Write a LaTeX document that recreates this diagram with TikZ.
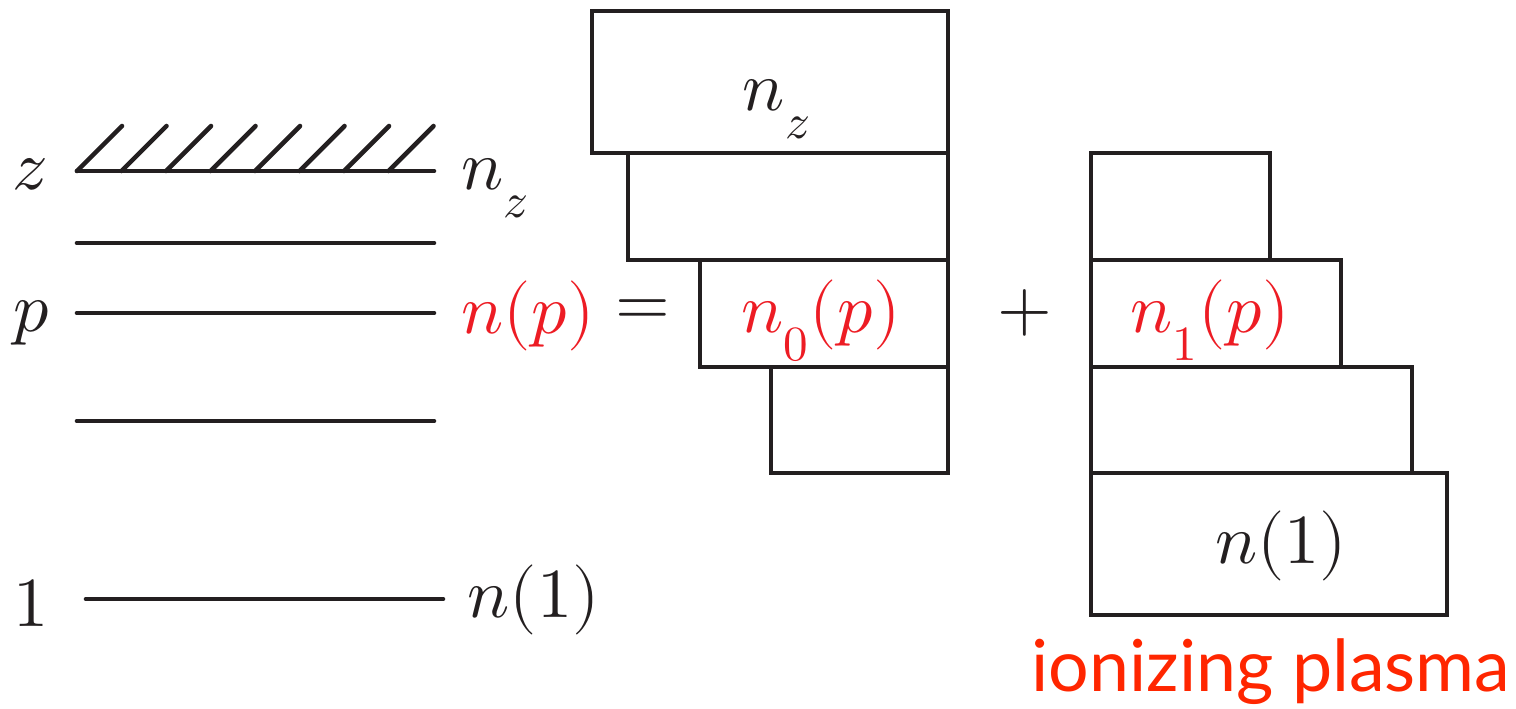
\documentclass[tikz,border=0pt]{standalone}
\usepackage{fontspec}
\usepackage{unicode-math}
\newfontfamily\plasmafont{Lato}
\usetikzlibrary{positioning}
\definecolor{ink}{HTML}{231F20}
\definecolor{levred}{HTML}{ED1C24}
\definecolor{plasmared}{HTML}{FF2600}
\newcommand{\dn}[1]{\raisebox{-3.3pt}{$\scriptstyle #1$}}

\begin{document}
\begin{tikzpicture}[x=0.1mm,y=-0.1mm]
        \tikzset{level/.style={ink, line width=1.3pt, line cap=round},
                 lab/.style={ink, inner sep=0pt, font=\fontsize{20}{24}\selectfont},
                 redlab/.style={lab, text=levred},
                 box/.style={draw=ink, line width=1.3pt, inner sep=0pt, outer sep=0pt}}
        \useasboundingbox (0,0) rectangle (1516,708);

        % energy levels
        \draw[level] (77,171) -- (434,171);
        \foreach \i in {0,...,7}
            \draw[level] ({77+44.5*\i},171) -- ++(45,-45);
        \draw[level] (77,243) -- (434,243);
        \draw[level] (77,313) -- (434,313);
        \draw[level] (77,421) -- (434,421);
        \draw[level] (86,599) -- (443,599);

        \node[lab, anchor=base] (lz) at (30,189) {$z$};
        \node[lab, anchor=base] (lp) at (32,331) {$p$};
        \node[lab, anchor=base] (l1) at (31,626) {$1$};
        \node[lab, anchor=base west] (nz) at (461,189) {$n_{\dn{z}}$};
        \node[redlab, anchor=base west] (np) at (461,333) {$n(p)$};
        \node[lab, anchor=base west] (n1) at (467,617) {$n(1)$};

        \node[lab] (eq) at (643,313) {$=$};
        \node[lab] (plus) at (1025,313) {$+$};

        % recombining part
        \node[box, minimum width=35.6mm, minimum height=14.2mm, anchor=north east] (m1) at (948,11) {};
        \node[box, minimum width=32mm, minimum height=10.7mm, anchor=north east] (m2) at (m1.south east) {};
        \node[box, minimum width=24.8mm, minimum height=10.7mm, anchor=north east] (m3) at (m2.south east) {};
        \node[box, minimum width=17.7mm, minimum height=10.6mm, anchor=north east] (m4) at (m3.south east) {};
        \node[lab, anchor=base] (mz) at (777,110) {$n_{\dn{z}}$};
        \node[redlab, anchor=base] (m0) at (821,332) {$n_{\dn{0}}(p)$};

        % ionizing part
        \node[box, minimum width=35.6mm, minimum height=14.2mm, anchor=south west] (r4) at (1091,615) {};
        \node[box, minimum width=32.1mm, minimum height=10.6mm, anchor=south west] (r3) at (r4.north west) {};
        \node[box, minimum width=25mm, minimum height=10.7mm, anchor=south west] (r2) at (r3.north west) {};
        \node[box, minimum width=17.9mm, minimum height=10.7mm, anchor=south west] (r1) at (r2.north west) {};
        \node[redlab, anchor=base] (r0) at (1210,332) {$n_{\dn{1}}(p)$};
        \node[lab, anchor=base] (rn) at (1281,563) {$n(1)$};

        \node[inner sep=0pt, anchor=base west, text=plasmared,
              font=\plasmafont\fontsize{20.4}{24}\selectfont] (ion) at (1031,691) {ionizing plasma};
\end{tikzpicture}
\end{document}
